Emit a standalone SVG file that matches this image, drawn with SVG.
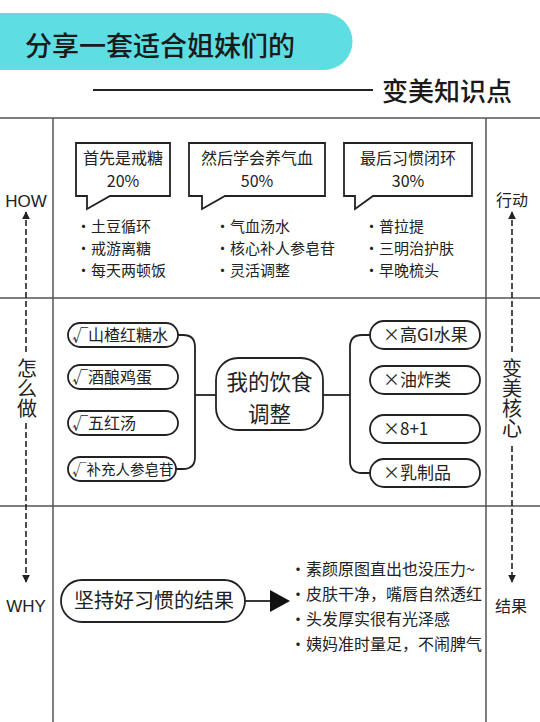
<svg xmlns="http://www.w3.org/2000/svg" width="540" height="722" viewBox="0 0 540 722">
<defs>
<style>
text{font-family:"Noto Sans CJK SC","Liberation Sans",sans-serif;fill:#222;}
.grid{stroke:#555;stroke-width:1.5;fill:none;}
.dash{stroke:#222;stroke-width:1.6;stroke-dasharray:6,3;fill:none;}
.box{fill:#fff;stroke:#222;stroke-width:1.8;}
.pill{fill:#fff;stroke:#222;stroke-width:1.8;}
.conn{fill:none;stroke:#222;stroke-width:1.8;}
.t15{font-size:15px;}
.t16{font-size:16px;}
.t17{font-size:17px;}
.side{font-size:16px;text-anchor:middle;}
.lat{font-family:"Liberation Sans",sans-serif;font-size:17px;text-anchor:middle;}
.vert{font-size:20px;writing-mode:vertical-rl;text-orientation:upright;}
.ctr{font-size:21.5px;text-anchor:middle;}
</style>
<marker id="ah" viewBox="0 0 10 10" refX="9" refY="5" markerWidth="5" markerHeight="5" orient="auto"><path d="M0,0 L10,5 L0,10 z" fill="#222"/></marker>
</defs>
<rect width="540" height="722" fill="#fff"/>

<g id="header">
<path d="M0,13 H324 A28.5,28.5 0 0 1 324,70 H0 Z" fill="#5EDDE3"/>
<text x="25" y="56" style="font-size:27px;font-weight:500;fill:#1a1a1a">分享一套适合姐妹们的</text>
<line x1="93" y1="90" x2="373" y2="90" stroke="#222" stroke-width="2"/>
<text x="382" y="101" style="font-size:26px;font-weight:500;fill:#1a1a1a">变美知识点</text>
</g>

<g id="grid">
<line class="grid" x1="0" y1="118" x2="540" y2="118"/>
<line class="grid" x1="0" y1="298" x2="540" y2="298"/>
<line class="grid" x1="0" y1="506" x2="540" y2="506"/>
<line class="grid" x1="53" y1="118" x2="53" y2="722"/>
<line class="grid" x1="486" y1="118" x2="486" y2="722"/>
</g>

<g id="left-axis">
<text class="lat" x="26" y="207">HOW</text>
<text class="vert" x="27" y="358">怎么做</text>
<text class="lat" x="26" y="612">WHY</text>
</g>
<g id="right-axis">
<text class="side" x="512" y="206">行动</text>
<text class="vert" x="512" y="358">变美核心</text>
<text class="side" x="511" y="612">结果</text>
</g>

<g id="callout1">
<path class="box" d="M76,143 H170 V196 H110 L87,209 V196 H76 Z"/>
<text class="t16" x="123" y="164" text-anchor="middle">首先是戒糖</text>
<text class="t16" x="123" y="187" text-anchor="middle">20%</text>
</g>
<g id="callout2">
<path class="box" d="M189,143 H325 V196 H225 L202,209 V196 H189 Z"/>
<text class="t16" x="257" y="164" text-anchor="middle">然后学会养气血</text>
<text class="t16" x="257" y="187" text-anchor="middle">50%</text>
</g>
<g id="callout3">
<path class="box" d="M344,143 H472 V196 H373 L355,209 V196 H344 Z"/>
<text class="t16" x="408" y="164" text-anchor="middle">最后习惯闭环</text>
<text class="t16" x="408" y="187" text-anchor="middle">30%</text>
</g>

<g id="list1">
<text class="t15" x="76" y="232">·土豆循环</text>
<text class="t15" x="76" y="254">·戒游离糖</text>
<text class="t15" x="76" y="276">·每天两顿饭</text>
</g>
<g id="list2">
<text class="t15" x="215" y="232">·气血汤水</text>
<text class="t15" x="215" y="254">·核心补人参皂苷</text>
<text class="t15" x="215" y="276">·灵活调整</text>
</g>
<g id="list3">
<text class="t15" x="364" y="232">·普拉提</text>
<text class="t15" x="364" y="254">·三明治护肤</text>
<text class="t15" x="364" y="276">·早晚梳头</text>
</g>

<g id="connectors">
<path class="dash" d="M26,352 V212" marker-end="url(#ah)"/>
<path class="dash" d="M26,423 V582" marker-end="url(#ah)"/>
<path class="dash" d="M512,352 V212" marker-end="url(#ah)"/>
<path class="dash" d="M512,446 V582" marker-end="url(#ah)"/>
<path class="conn" d="M178,335 H183 Q195,335 195,347 V457 Q195,469 183,469 H176"/>
<line class="conn" x1="195" y1="395" x2="216" y2="395"/>
<line class="conn" x1="323" y1="395" x2="350" y2="395"/>
<path class="conn" d="M370,335 H362 Q350,335 350,347 V461 Q350,473 362,473 H370"/>
<line class="conn" x1="245" y1="601" x2="272" y2="601"/>
<path d="M270,590 L290,601 L270,612 Z" fill="#111"/>
</g>

<g id="center-node">
<rect class="pill" x="216" y="358" width="107" height="72" rx="22"/>
<text class="ctr" x="269.5" y="390">我的饮食</text>
<text class="ctr" x="269.5" y="422">调整</text>
</g>

<g id="do1"><rect class="pill" x="68" y="323" width="110" height="24" rx="12"/><text class="t16" x="72" y="341">√山楂红糖水</text></g>
<g id="do2"><rect class="pill" x="68" y="365" width="110" height="24" rx="12"/><text class="t16" x="72" y="383">√酒酿鸡蛋</text></g>
<g id="do3"><rect class="pill" x="68" y="411" width="110" height="24" rx="12"/><text class="t16" x="72" y="429">√五红汤</text></g>
<g id="do4"><rect class="pill" x="68" y="457" width="108" height="24" rx="12"/><text x="72" y="475" style="font-size:14.5px">√补充人参皂苷</text></g>

<g id="dont1"><rect class="pill" x="370" y="321" width="110" height="28" rx="14"/><text class="t17" x="383" y="341">×高GI水果</text></g>
<g id="dont2"><rect class="pill" x="370" y="366" width="110" height="28" rx="14"/><text class="t17" x="383" y="386">×油炸类</text></g>
<g id="dont3"><rect class="pill" x="370" y="415" width="110" height="28" rx="14"/><text class="t17" x="383" y="435">×8+1</text></g>
<g id="dont4"><rect class="pill" x="370" y="459" width="110" height="28" rx="14"/><text class="t17" x="383" y="479">×乳制品</text></g>

<g id="result-node">
<rect class="pill" x="61" y="580" width="184" height="42" rx="21"/>
<text x="74" y="608" style="font-size:20px">坚持好习惯的结果</text>
</g>

<g id="result-list">
<text class="t16" x="290" y="575">·素颜原图直出也没压力~</text>
<text class="t16" x="290" y="600">·皮肤干净，嘴唇自然透红</text>
<text class="t16" x="290" y="625">·头发厚实很有光泽感</text>
<text class="t16" x="290" y="650">·姨妈准时量足，不闹脾气</text>
</g>
</svg>
